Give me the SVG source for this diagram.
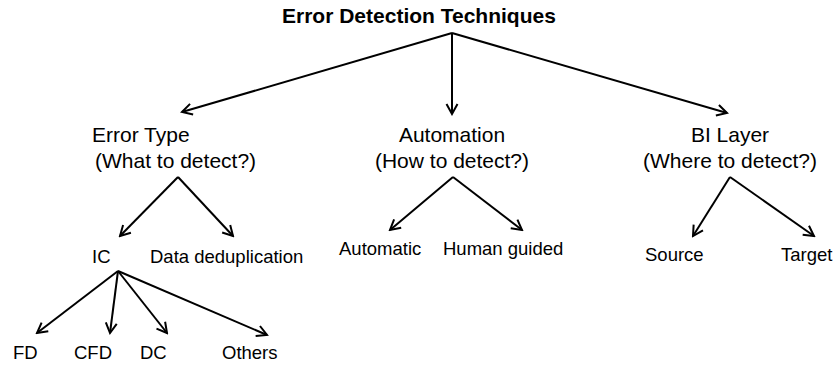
<svg xmlns="http://www.w3.org/2000/svg" width="833" height="365" viewBox="0 0 833 365">
<style>
text{font-family:"Liberation Sans",Arial,sans-serif;fill:#000}
.t{font-size:21px;font-weight:bold}
.h{font-size:21px}
.l{font-size:18.5px}
.c line{stroke:#000;stroke-width:2;marker-end:url(#a)}
</style>
<defs>
<marker id="a" markerUnits="userSpaceOnUse" viewBox="-12 -7 14 14" markerWidth="14" markerHeight="14" refX="0" refY="0" orient="auto">
<path d="M-10,-5.5 L0,0 L-10,5.5" fill="none" stroke="#000" stroke-width="2"/>
</marker>
</defs>
<rect width="833" height="365" fill="#fff"/>
<g id="root"><text class="t" x="282" y="23">Error Detection Techniques</text></g>
<g id="errortype"><text class="h" x="92" y="142">Error Type</text><text class="h" x="95" y="168">(What to detect?)</text></g>
<g id="automation"><text class="h" x="452" y="142" text-anchor="middle">Automation</text><text class="h" x="452" y="168" text-anchor="middle">(How to detect?)</text></g>
<g id="bilayer"><text class="h" x="730" y="142" text-anchor="middle">BI Layer</text><text class="h" x="730" y="168" text-anchor="middle">(Where to detect?)</text></g>
<g id="ic"><text class="l" x="92" y="263">IC</text></g>
<g id="dedup"><text class="l" x="150" y="263">Data deduplication</text></g>
<g id="automatic"><text class="l" x="339" y="255">Automatic</text></g>
<g id="human"><text class="l" x="443" y="255">Human guided</text></g>
<g id="source"><text class="l" x="645" y="261">Source</text></g>
<g id="target"><text class="l" x="781" y="261">Target</text></g>
<g id="fd"><text class="l" x="13" y="359">FD</text></g>
<g id="cfd"><text class="l" x="74" y="359">CFD</text></g>
<g id="dc"><text class="l" x="140" y="359">DC</text></g>
<g id="others"><text class="l" x="222" y="359">Others</text></g>
<g class="c" id="connectors">
<line x1="452" y1="33" x2="182" y2="112"/>
<line x1="452" y1="33" x2="452" y2="114"/>
<line x1="452" y1="33" x2="727" y2="113"/>
<line x1="178" y1="177" x2="120" y2="236"/>
<line x1="178" y1="177" x2="233" y2="236"/>
<line x1="453" y1="177" x2="390" y2="230"/>
<line x1="453" y1="177" x2="522" y2="230"/>
<line x1="730" y1="177" x2="693" y2="236"/>
<line x1="730" y1="177" x2="814" y2="236"/>
<line x1="118" y1="271" x2="37" y2="333"/>
<line x1="118" y1="271" x2="110" y2="333"/>
<line x1="118" y1="271" x2="167" y2="333"/>
<line x1="118" y1="271" x2="267" y2="335"/>
</g>
</svg>
